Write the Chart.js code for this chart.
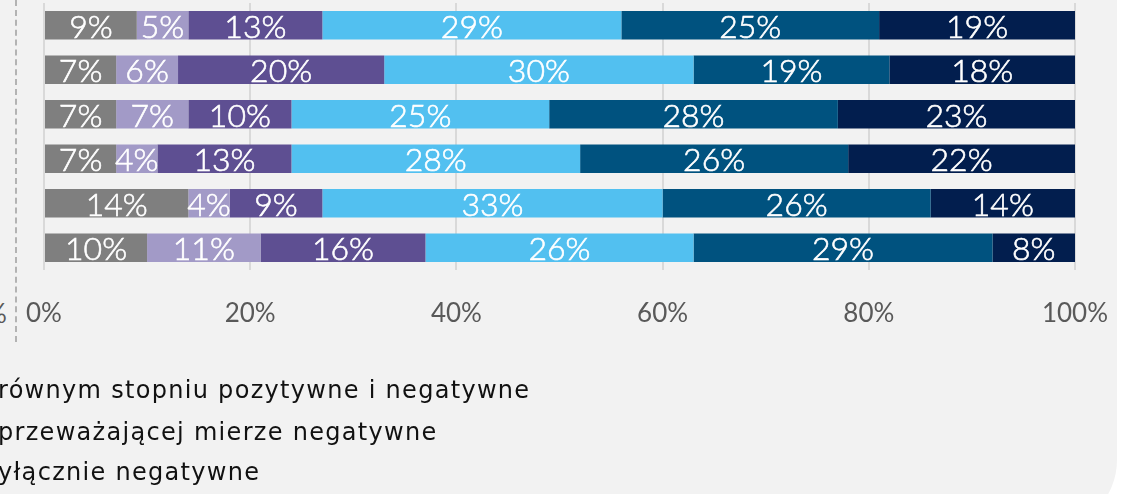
<!DOCTYPE html>
<html>
<head>
<meta charset="utf-8">
<script src="https://cdn.jsdelivr.net/npm/chart.js@4/dist/chart.umd.min.js"></script>
<style>
  html,body{margin:0;padding:0;background:#fff;}
  body{width:1132px;height:494px;overflow:hidden;position:relative;}
  #panel{position:absolute;left:-40px;top:-40px;width:1157px;height:570px;background:#f2f2f2;border-radius:0 0 70px 0;}
  #divider{position:absolute;left:15px;top:0;height:342px;border-left:2px dashed #b3b3b3;}
  #prev{position:absolute;left:-14px;top:297px;font:26px Lato,sans-serif;color:#595959;}
  #wrap{position:absolute;left:0;top:0;width:1132px;height:494px;}
  .leg{position:absolute;left:-2px;font:24px "DejaVu Sans",sans-serif;letter-spacing:1.3px;color:#111;white-space:nowrap;}
</style>
</head>
<body>
<div id="panel"></div>
<div id="divider"></div>
<div id="prev">%</div>
<div id="wrap"><canvas id="c" width="1132" height="494"></canvas></div>
<div class="leg" style="top:376px">równym stopniu pozytywne i negatywne</div>
<div class="leg" style="top:418px">przeważającej mierze negatywne</div>
<div class="leg" style="top:458px">yłącznie negatywne</div>
<script>
// ── data ──
const rows=['r1','r2','r3','r4','r5','r6'];
const s1=[9,7,7,7,14,10];
const s2=[5,6,7,4,4,11];
const s3=[13,20,10,13,9,16];
const s4=[29,30,25,28,33,26];
const s5=[25,19,28,26,26,29];
const s6=[19,18,23,22,14,8];
const xTicks=[0,20,40,60,80,100];

const colors=['#7f7f7f','#a29ac7','#5e4f92','#52c0f0','#00527f','#021e4e'];
const series=[s1,s2,s3,s4,s5,s6];

// draw "NN%" in the middle of each segment
const barLabels={id:'barLabels',afterDatasetsDraw(chart){
  const ctx=chart.ctx;
  ctx.save();
  ctx.fillStyle='#fff';ctx.strokeStyle='#fff';ctx.lineWidth=0.6;
  ctx.font='300 32px Lato, sans-serif';
  ctx.textAlign='center';ctx.textBaseline='middle';
  chart.data.datasets.forEach((ds,i)=>{
    chart.getDatasetMeta(i).data.forEach((bar,j)=>{
      const cx=(bar.x+bar.base)/2, t=ds.data[j]+'%';
      ctx.fillText(t,cx,bar.y+2);
      ctx.strokeText(t,cx,bar.y+2);
    });
  });
  ctx.restore();
}};

new Chart(document.getElementById('c'),{
  type:'bar',
  data:{labels:rows,datasets:series.map((d,i)=>({data:d,backgroundColor:colors[i],borderWidth:0,
    categoryPercentage:1,barPercentage:0.64}))},
  options:{
    indexAxis:'y',responsive:false,animation:false,
    layout:{padding:{left:44,right:57,top:3,bottom:164}},
    plugins:{legend:{display:false},tooltip:{enabled:false}},
    scales:{
      y:{stacked:true,display:false},
      x:{stacked:true,min:0,max:100,
        afterBuildTicks:s=>{s.ticks=xTicks.map(v=>({value:v}));},
        afterFit:s=>{s.height=60;s.paddingLeft=0;s.paddingRight=0;},
        border:{display:false},
        grid:{color:'#d9d9d9',lineWidth:2,drawTicks:false},
        ticks:{color:'#595959',padding:28,font:{family:'Lato',size:26},callback:v=>v+'%'}}
    }
  },
  plugins:[barLabels]
});
</script>
</body>
</html>
